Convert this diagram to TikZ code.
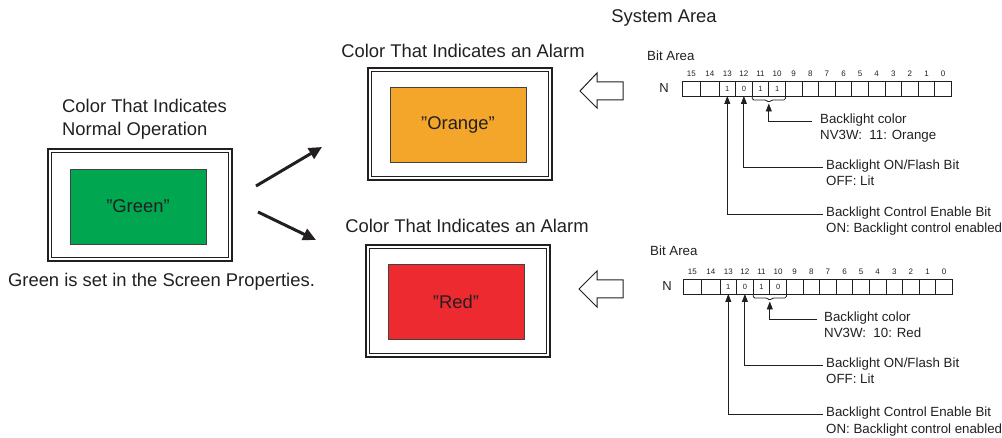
\documentclass[tikz,border=0pt]{standalone}
\usepackage{fontspec}
\setmainfont{Liberation Sans}
\usetikzlibrary{arrows.meta,calc}
\definecolor{ink}{HTML}{231F20}
\definecolor{scrgreen}{HTML}{00A650}
\definecolor{scrorange}{HTML}{F4A62A}
\definecolor{scrred}{HTML}{EC2A2F}
\tikzset{
  title/.style={font=\fontsize{18.4}{23}\selectfont, text=ink, inner sep=0pt},
  lbl/.style={font=\fontsize{13.3}{15}\selectfont, text=ink, inner xsep=3pt, inner ysep=0pt, anchor=mid west},
  bitnum/.style={font=\fontsize{8}{9}\selectfont, text=ink, inner sep=0pt},
  cell/.style={draw=ink, line width=0.8pt, minimum height=15pt, inner sep=0pt, outer sep=0pt, anchor=north west},
  cellval/.style={font=\fontsize{7.5}{8}\selectfont, text=ink, inner sep=0pt},
  scrframe/.style={draw=ink, line width=2.2pt, minimum width=184pt, minimum height=112pt, inner sep=0pt, outer sep=0pt},
  panel/.style={draw=ink!85, line width=0.8pt, minimum width=136pt, minimum height=75pt, inner sep=0pt, text=ink, font=\fontsize{18.4}{20}\selectfont},
  fat/.style={draw=ink, line width=3pt, -{Triangle[length=13pt,width=12pt]}},
  ptr/.style={draw=ink, line width=0.9pt, -{Triangle[length=8pt,width=6pt]}},
  hollow/.style={draw=ink, line width=1pt, fill=white, line join=miter},
  bracepath/.style={draw=ink, line width=0.8pt, rounded corners=1.5pt},
}
\newcommand\bitreg[3]{%
  \foreach \b/\xl/\w in {15/0/18.5pt,14/18.5/18.5pt,13/37/16.6pt,12/53.6/16.6pt,11/70.2/16.6pt,10/86.8/16.6pt,9/103.4/16.6pt,8/120/16.6pt,7/136.6/16.6pt,6/153.2/16.6pt,5/169.8/16.6pt,4/186.4/16.6pt,3/203/16.6pt,2/219.6/16.6pt,1/236.2/16.6pt,0/252.8/16.6pt}{
    \node[cell, minimum width=\w] (#1c\b) at (#2+\xl, #3) {};
    \node[bitnum] (#1n\b) at ($(#1c\b.north)+(0,-7)$) {\b};
  }%
}
\begin{document}
\begin{tikzpicture}[x=1pt,y=-1pt]
\useasboundingbox (0,0) rectangle (1002,438);

% titles
\node[title] (sysarea) at (664,18) {System Area};
\node[title] (t1) at (463,51) {Color That Indicates an Alarm};
\node[title] (t2) at (467,226) {Color That Indicates an Alarm};
\node[title, align=left, anchor=west] (t0) at (62,119.5) {Color That Indicates\\Normal Operation};
\node[title] (note) at (161.5,282) {Green is set in the Screen Properties.};

% screens
\node[scrframe] (gs) at (140,205) {};
\draw[ink, line width=0.9pt] ($(gs.north west)+(3.5,3.5)$) rectangle ($(gs.south east)+(-3.5,-3.5)$);
\node[panel, fill=scrgreen] (gp) at (138,206.5) {"Green"};

\node[scrframe] (os) at (460,124) {};
\draw[ink, line width=0.9pt] ($(os.north west)+(3.5,3.5)$) rectangle ($(os.south east)+(-3.5,-3.5)$);
\node[panel, fill=scrorange] (op) at (458,124.5) {"Orange"};

\node[scrframe] (rs) at (458,301) {};
\draw[ink, line width=0.9pt] ($(rs.north west)+(3.5,3.5)$) rectangle ($(rs.south east)+(-3.5,-3.5)$);
\node[panel, fill=scrred] (rp) at (456,301.5) {"Red"};

% fat arrows
\coordinate (ua) at (256,186); \coordinate (ub) at (322,147);
\draw[fat] (ua) -- (ub);
\coordinate (la) at (258,212); \coordinate (lb) at (316,240);
\draw[fat] (la) -- (lb);

% hollow arrows
\draw[hollow] (580,91) -- (597,73) -- (597,82) -- (623,82) -- (623,100) -- (597,100) -- (597,108) -- cycle;
\draw[hollow] (579,289) -- (597,271) -- (597,280) -- (623,280) -- (623,298) -- (597,298) -- (597,307) -- cycle;

% register 1
\node[lbl, inner xsep=0pt] (ba1) at (647,58) {Bit Area};
\node[font=\fontsize{13}{14}\selectfont, text=ink, inner sep=0pt] (nn1) at (664,88) {N};
\bitreg{r1}{682}{81}
\foreach \b/\v in {13/1,12/0,11/1,10/1} \node[cellval] (r1v\b) at (r1c\b) {\v};
\draw[bracepath] (r1c11.south west) -- ++(0,4) -- ($(r1c11.south east)+(-2.5,4)$) -- ($(r1c11.south east)+(0,6.5)$) -- ($(r1c11.south east)+(2.5,4)$) -- ($(r1c10.south east)+(0,4)$) -- (r1c10.south east);

\node[lbl, inner xsep=8pt] (r1col) at (812,121) {Backlight color};
\node[lbl, inner xsep=8pt] (r1colb) at (812,137) {NV3W:\ \ 11: Orange};
\node[lbl] (r1on) at (823,167) {Backlight ON/Flash Bit};
\node[lbl] (r1onb) at (823,183) {OFF: Lit};
\node[lbl] (r1en) at (823,214) {Backlight Control Enable Bit};
\node[lbl] (r1enb) at (823,230) {ON: Backlight control enabled};

\draw[ptr] (r1col.mid west) -| ($(r1c11.south east)+(0,7.5)$);
\draw[ptr] (r1on.mid west) -| (r1c12.south);
\draw[ptr] (r1en.mid west) -| (r1c13.south);

% register 2
\node[lbl, inner xsep=0pt] (ba2) at (650,253) {Bit Area};
\node[font=\fontsize{13}{14}\selectfont, text=ink, inner sep=0pt] (nn2) at (667,286) {N};
\bitreg{r2}{683}{279}
\foreach \b/\v in {13/1,12/0,11/1,10/0} \node[cellval] (r2v\b) at (r2c\b) {\v};
\draw[bracepath] (r2c11.south west) -- ++(0,4) -- ($(r2c11.south east)+(-2.5,4)$) -- ($(r2c11.south east)+(0,6.5)$) -- ($(r2c11.south east)+(2.5,4)$) -- ($(r2c10.south east)+(0,4)$) -- (r2c10.south east);

\node[lbl, inner xsep=7pt] (r2col) at (817,319) {Backlight color};
\node[lbl, inner xsep=7pt] (r2colb) at (817,335) {NV3W:\ \ 10: Red};
\node[lbl] (r2on) at (823,365) {Backlight ON/Flash Bit};
\node[lbl] (r2onb) at (823,381) {OFF: Lit};
\node[lbl] (r2en) at (823,414) {Backlight Control Enable Bit};
\node[lbl] (r2enb) at (823,431) {ON: Backlight control enabled};

\draw[ptr] (r2col.mid west) -| ($(r2c11.south east)+(0,7.5)$);
\draw[ptr] (r2on.mid west) -| (r2c12.south);
\draw[ptr] (r2en.mid west) -| (r2c13.south);
\end{tikzpicture}
\end{document}
